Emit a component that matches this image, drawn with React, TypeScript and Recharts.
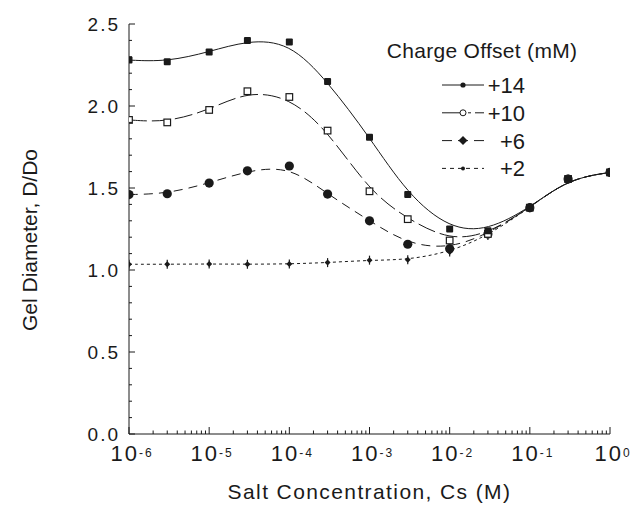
import { LineChart, Line, XAxis, YAxis, Legend } from "recharts";

const INK = "#1a1a1a";
const FONT = "'Liberation Sans', Arial, Helvetica, sans-serif";

// salt concentration (M) at which each gel was measured
const saltConc = [1e-6, 3e-6, 1e-5, 3e-5, 1e-4, 3e-4, 1e-3, 3e-3, 1e-2, 3e-2, 1e-1, 3e-1, 1];

// gel diameter D/Do for each charge offset (mM)
const offset14 = [2.28, 2.27, 2.33, 2.4, 2.39, 2.15, 1.81, 1.46, 1.25, 1.24, 1.38, 1.555, 1.595];
const offset10 = [1.915, 1.9, 1.976, 2.09, 2.055, 1.85, 1.48, 1.31, 1.18, 1.22, 1.38, 1.555, 1.595];
const offset6 = [1.46, 1.465, 1.53, 1.605, 1.634, 1.463, 1.3, 1.157, 1.13, 1.22, 1.38, 1.555, 1.595];
const offset2 = [1.035, 1.035, 1.037, 1.035, 1.037, 1.045, 1.06, 1.062, 1.11, 1.21, 1.38, 1.555, 1.595];

// axis ticks
const decades = [1e-6, 1e-5, 1e-4, 1e-3, 1e-2, 1e-1];
const minorSteps = [1, 2, 3, 4, 5, 6, 7, 8, 9];
const xTicks = [...decades.flatMap((d) => minorSteps.map((m) => m * d)), 1];
const yTicks = [0, 0.1, 0.2, 0.3, 0.4, 0.5, 0.6, 0.7, 0.8, 0.9, 1, 1.1, 1.2, 1.3, 1.4, 1.5, 1.6, 1.7, 1.8, 1.9, 2, 2.1, 2.2, 2.3, 2.4, 2.5];

const series = [
  { key: "o2", label: "+2", dash: "3 3", marker: "smallDiamond" },
  { key: "o6", label: "+6", dash: "9 6", marker: "circle" },
  { key: "o10", label: "+10", dash: "18 5", marker: "openSquare" },
  { key: "o14", label: "+14", dash: undefined, marker: "square" },
];

const rows = saltConc.map((cs, i) => ({
  cs,
  o14: offset14[i],
  o10: offset10[i],
  o6: offset6[i],
  o2: offset2[i],
}));

const isMajorX = (v: number) => Math.abs(Math.log10(v) - Math.round(Math.log10(v))) < 1e-9;
const isMajorY = (v: number) => Math.abs(v * 2 - Math.round(v * 2)) < 1e-9;

function drawMarker(kind: string, cx: number, cy: number, key?: string) {
  switch (kind) {
    case "square":
      return <rect key={key} x={cx - 3.5} y={cy - 3.5} width={7} height={7} rx={1} fill={INK} />;
    case "openSquare":
      return <rect key={key} x={cx - 3.3} y={cy - 3.3} width={6.6} height={6.6} fill="#fff" stroke={INK} strokeWidth={1.2} />;
    case "circle":
      return <circle key={key} cx={cx} cy={cy} r={4.6} fill={INK} />;
    case "smallDiamond":
      return (
        <g key={key}>
          <line x1={cx} x2={cx} y1={cy - 4.5} y2={cy + 4.5} stroke={INK} strokeWidth={1.2} />
          <polygon points={`${cx - 3},${cy} ${cx},${cy - 3} ${cx + 3},${cy} ${cx},${cy + 3}`} fill={INK} />
        </g>
      );
    default:
      return null;
  }
}

const BottomTick = (props: any) => {
  const { x, y, payload } = props;
  const v = payload.value;
  const major = isMajorX(v);
  return (
    <g>
      <line x1={x} x2={x} y1={y} y2={y - (major ? 7 : 3.5)} stroke={INK} />
      {major && (
        <text x={x + 3} y={y + 27} textAnchor="middle" fontFamily={FONT} fontSize={22} letterSpacing={2} fill={INK}>
          <tspan>10</tspan>
          <tspan fontSize={12} dy={-4}>{String(Math.round(Math.log10(v)))}</tspan>
        </text>
      )}
    </g>
  );
};

const TopTick = (props: any) => {
  const { x, y, payload } = props;
  const major = isMajorX(payload.value);
  return <line x1={x} x2={x} y1={y} y2={y + (major ? 7 : 3.5)} stroke={INK} />;
};

const LeftTick = (props: any) => {
  const { x, y, payload } = props;
  const v = payload.value;
  const major = isMajorY(v);
  return (
    <g>
      <line x1={x} x2={x + (major ? 6 : 3)} y1={y} y2={y} stroke={INK} />
      {major && (
        <text x={x - 9} y={y + 6.5} textAnchor="end" fontFamily={FONT} fontSize={19} letterSpacing={2} fill={INK}>
          {v.toFixed(1)}
        </text>
      )}
    </g>
  );
};

const RightTick = (props: any) => {
  const { x, y, payload } = props;
  const major = isMajorY(payload.value);
  return <line x1={x} x2={x - (major ? 6 : 3)} y1={y} y2={y} stroke={INK} />;
};

function LegendBox() {
  const entries = [
    { label: "+14", dash: undefined, marker: "dot" },
    { label: "+10", dash: "22 4 3 4", marker: "openDot" },
    { label: "+6", dash: "10 6", marker: "diamond" },
    { label: "+2", dash: "4 4", marker: "smallDot" },
  ];
  return (
    <svg width={230} height={160} style={{ overflow: "visible" }}>
      <text x={102} y={28} textAnchor="middle" fontFamily={FONT} fontSize={21} letterSpacing={0.3} fill={INK}>
        Charge Offset (mM)
      </text>
      {entries.map((e, i) => {
        const ly = 55 + i * 27.8;
        const mx = 83;
        return (
          <g key={e.label}>
            <line x1={62} x2={104} y1={ly} y2={ly} stroke={INK} strokeDasharray={e.dash} />
            {e.marker === "dot" && <circle cx={mx} cy={ly} r={2.6} fill={INK} />}
            {e.marker === "openDot" && <circle cx={mx} cy={ly} r={3} fill="#fff" stroke={INK} />}
            {e.marker === "diamond" && (
              <polygon points={`${mx - 4.5},${ly} ${mx},${ly - 4.5} ${mx + 4.5},${ly} ${mx},${ly + 4.5}`} fill={INK} />
            )}
            {e.marker === "smallDot" && <circle cx={mx} cy={ly} r={2} fill={INK} />}
            <text x={145} y={ly + 8} textAnchor="end" fontFamily={FONT} fontSize={22} fill={INK}>
              {e.label}
            </text>
          </g>
        );
      })}
    </svg>
  );
}

export default function App() {
  return (
    <div style={{ position: "absolute", left: 0, top: 0, background: "#fff" }}>
      <LineChart width={633} height={508} data={rows} margin={{ top: 24, right: 23, bottom: 0, left: 0 }}>
        <XAxis
          xAxisId="bottom"
          dataKey="cs"
          type="number"
          scale="log"
          domain={[1e-6, 1]}
          allowDataOverflow
          ticks={xTicks}
          interval={0}
          height={74}
          tickSize={0}
          tickMargin={0}
          tickLine={false}
          tick={BottomTick}
          axisLine={{ stroke: INK }}
          label={{
            content: ({ viewBox }: any) => (
              <text
                x={viewBox.x + viewBox.width / 2}
                y={viewBox.y + viewBox.height - 9}
                textAnchor="middle"
                fontFamily={FONT}
                fontSize={21}
                letterSpacing={1.4}
                fill={INK}
              >
                Salt Concentration, Cs (M)
              </text>
            ),
          }}
        />
        <XAxis
          xAxisId="top"
          orientation="top"
          dataKey="cs"
          type="number"
          scale="log"
          domain={[1e-6, 1]}
          allowDataOverflow
          ticks={xTicks}
          interval={0}
          height={0}
          tickSize={0}
          tickMargin={0}
          tickLine={false}
          tick={TopTick}
          axisLine={{ stroke: INK }}
        />
        <YAxis
          yAxisId="left"
          type="number"
          domain={[0, 2.5]}
          ticks={yTicks}
          interval={0}
          width={129}
          tickSize={0}
          tickMargin={0}
          tickLine={false}
          tick={LeftTick}
          axisLine={{ stroke: INK }}
          label={{
            content: () => (
              <text
                x={37}
                y={240}
                transform="rotate(-90, 37, 240)"
                textAnchor="middle"
                fontFamily={FONT}
                fontSize={21}
                fill={INK}
              >
                Gel Diameter, D/Do
              </text>
            ),
          }}
        />
        <YAxis
          yAxisId="right"
          orientation="right"
          type="number"
          domain={[0, 2.5]}
          ticks={yTicks}
          interval={0}
          width={0}
          tickSize={0}
          tickMargin={0}
          tickLine={false}
          tick={RightTick}
          axisLine={{ stroke: INK }}
        />
        {series.map((s) => (
          <Line
            key={s.key}
            xAxisId="bottom"
            yAxisId="left"
            type="basis"
            dataKey={s.key}
            name={s.label}
            stroke={INK}
            strokeWidth={1}
            strokeDasharray={s.dash}
            dot={(p: any) => drawMarker(s.marker, p.cx, p.cy, `${s.key}-${p.index}`)}
            activeDot={false}
            legendType="none"
            isAnimationActive={false}
          />
        ))}
        <Legend
          layout="vertical"
          verticalAlign="middle"
          align="center"
          wrapperStyle={{ left: 380, top: 30, width: 230, height: 160 }}
          content={() => <LegendBox />}
        />
      </LineChart>
    </div>
  );
}
